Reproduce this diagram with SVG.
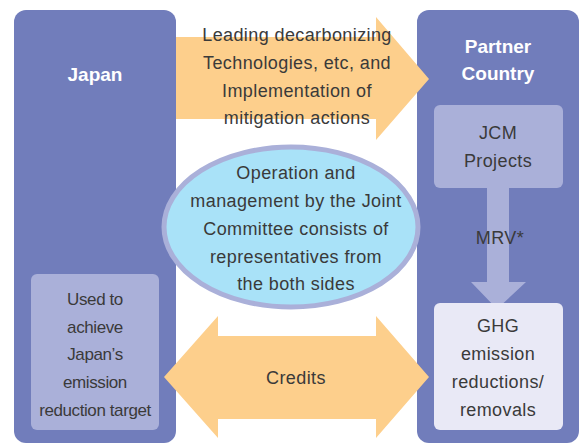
<svg xmlns="http://www.w3.org/2000/svg" width="584" height="445" viewBox="0 0 584 445">
<style>
.panel{fill:#717dbb}
.inner{fill:#aab0d9}
.light{fill:#e9e9f6}
.orange{fill:#fdcf8c}
.t{font-family:"Liberation Sans",Arial,sans-serif;font-size:18px;fill:#3a3a3a;text-anchor:middle;letter-spacing:0.4px}
.s{font-size:17px;letter-spacing:-0.4px}
.h{font-family:"Liberation Sans",Arial,sans-serif;font-size:19px;font-weight:bold;fill:#ffffff;text-anchor:middle}
</style>
<rect width="584" height="445" fill="#ffffff"/>
<g id="japan">
<rect class="panel" x="14" y="10" width="162" height="433" rx="12"/>
<text class="h" x="95" y="81">Japan</text>
</g>
<g id="partner">
<rect class="panel" x="417" y="10" width="162" height="433" rx="12"/>
<text class="h" x="498" y="53">Partner</text>
<text class="h" x="498" y="80">Country</text>
</g>
<g id="connectors">
<polygon id="tech-arrow" class="orange" points="176,37 376,37 376,17 429,79 376,140 376,119 176,119"/>
<polygon id="credits-arrow" class="orange" points="164,377 218,316 218,336 376,336 376,316 429,377 376,438 376,419 218,419 218,438"/>
<polygon id="mrv-arrow" class="inner" points="487,186 509,186 509,282 526,282 497,309 471,282 487,282"/>
</g>
<g id="tech-label">
<text class="t" x="297" y="41">Leading decarbonizing</text>
<text class="t" x="297" y="69">Technologies, etc, and</text>
<text class="t" x="297" y="97">Implementation of</text>
<text class="t" x="297" y="124">mitigation actions</text>
</g>
<g id="jcm">
<rect class="inner" x="434" y="105" width="129" height="83" rx="6"/>
<text class="t" x="498" y="139">JCM</text>
<text class="t" x="498" y="167">Projects</text>
</g>
<g id="mrv-label">
<text class="t" x="500" y="244">MRV*</text>
</g>
<g id="committee">
<ellipse cx="291" cy="227" rx="127" ry="80" fill="#a9e2f8" stroke="#aab0d9" stroke-width="5"/>
<text class="t" x="296" y="179">Operation and</text>
<text class="t" x="296" y="207">management by the Joint</text>
<text class="t" x="296" y="235">Committee consists of</text>
<text class="t" x="296" y="263">representatives from</text>
<text class="t" x="296" y="290">the both sides</text>
</g>
<g id="japan-target">
<rect class="inner" x="31" y="274" width="128" height="156" rx="6"/>
<text class="t s" x="95" y="305">Used to</text>
<text class="t s" x="95" y="333">achieve</text>
<text class="t s" x="95" y="360">Japan’s</text>
<text class="t s" x="95" y="388">emission</text>
<text class="t s" x="95" y="416">reduction target</text>
</g>
<g id="ghg">
<rect class="light" x="434" y="303" width="129" height="127" rx="6"/>
<text class="t" x="498" y="332">GHG</text>
<text class="t" x="498" y="360">emission</text>
<text class="t" x="498" y="388">reductions/</text>
<text class="t" x="498" y="416">removals</text>
</g>
<g id="credits-label">
<text class="t" x="296" y="384">Credits</text>
</g>
</svg>
